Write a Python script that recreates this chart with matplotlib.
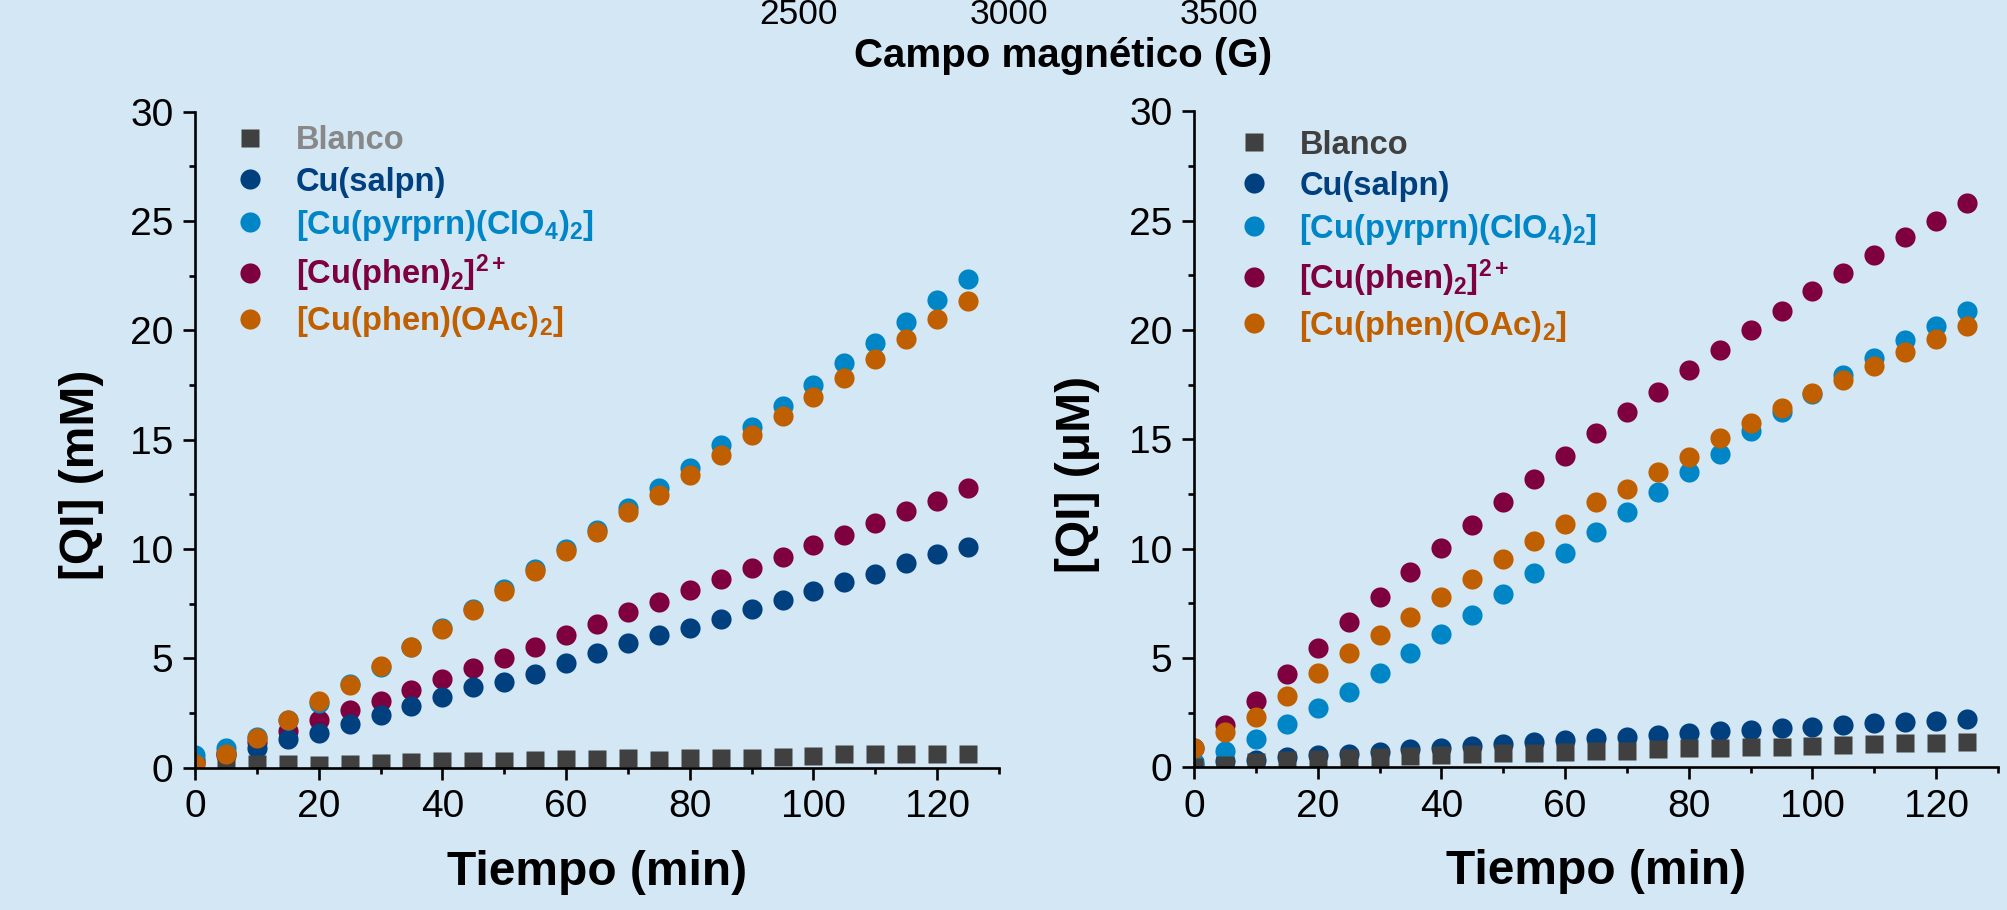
import matplotlib.pyplot as plt
from matplotlib.ticker import MultipleLocator

plt.rcParams["font.family"] = ["Liberation Sans", "DejaVu Sans"]
plt.rcParams["mathtext.fontset"] = "custom"
plt.rcParams["mathtext.rm"] = "Liberation Sans"
plt.rcParams["mathtext.it"] = "Liberation Sans:italic"
plt.rcParams["mathtext.bf"] = "Liberation Sans:bold"

BG = "#d3e7f5"

# tiempo (min)
TIME = [0, 5, 10, 15, 20, 25, 30, 35, 40, 45, 50, 55, 60,
        65, 70, 75, 80, 85, 90, 95, 100, 105, 110, 115, 120, 125]

# panel izquierdo, [QI] (mM)
blanco_mM = [0.0, 0.10, 0.15, 0.15, 0.12, 0.18, 0.23, 0.27, 0.30, 0.30, 0.30, 0.33, 0.38,
             0.38, 0.43, 0.35, 0.43, 0.46, 0.46, 0.49, 0.52, 0.61, 0.62, 0.61, 0.62, 0.62]
salpn_mM = [0.35, 0.65, 0.91, 1.30, 1.57, 1.98, 2.41, 2.82, 3.25, 3.70, 3.93, 4.28, 4.80,
            5.23, 5.69, 6.07, 6.40, 6.80, 7.26, 7.67, 8.08, 8.51, 8.86, 9.35, 9.76, 10.11]
pyrprn_mM = [0.58, 0.88, 1.42, 2.20, 2.95, 3.83, 4.62, 5.53, 6.37, 7.24, 8.16, 9.07, 9.98,
             10.87, 11.86, 12.78, 13.69, 14.76, 15.59, 16.54, 17.50, 18.49, 19.41, 20.39, 21.38, 22.33]
phen2_mM = [0.20, 0.60, 1.19, 1.69, 2.18, 2.64, 3.05, 3.55, 4.04, 4.54, 5.00, 5.53, 6.07,
            6.57, 7.13, 7.59, 8.13, 8.63, 9.15, 9.65, 10.18, 10.64, 11.17, 11.74, 12.20, 12.78]
oac_mM = [0.15, 0.62, 1.34, 2.18, 3.06, 3.80, 4.66, 5.50, 6.34, 7.21, 8.08, 8.99, 9.89,
          10.76, 11.69, 12.45, 13.37, 14.30, 15.21, 16.08, 16.94, 17.80, 18.69, 19.59, 20.50, 21.34]

# panel derecho, [QI] (uM)
blanco_uM = [0.0, 0.12, 0.26, 0.34, 0.38, 0.43, 0.46, 0.53, 0.56, 0.61, 0.64, 0.66, 0.69,
             0.73, 0.76, 0.82, 0.87, 0.88, 0.91, 0.95, 0.98, 1.02, 1.07, 1.10, 1.13, 1.17]
salpn_uM = [0.10, 0.30, 0.35, 0.45, 0.56, 0.61, 0.72, 0.82, 0.90, 0.99, 1.08, 1.14, 1.25,
            1.33, 1.40, 1.48, 1.55, 1.66, 1.71, 1.78, 1.86, 1.94, 2.01, 2.09, 2.13, 2.20]
pyrprn_uM = [0.26, 0.75, 1.30, 1.97, 2.70, 3.46, 4.30, 5.21, 6.10, 6.97, 7.91, 8.87, 9.79,
             10.75, 11.69, 12.58, 13.49, 14.35, 15.40, 16.27, 17.05, 17.95, 18.71, 19.52, 20.19, 20.89]
phen2_uM = [0.90, 1.95, 3.05, 4.27, 5.44, 6.63, 7.80, 8.92, 10.02, 11.08, 12.15, 13.17, 14.25,
            15.31, 16.24, 17.18, 18.18, 19.09, 20.00, 20.87, 21.76, 22.60, 23.43, 24.24, 25.00, 25.80]
oac_uM = [0.90, 1.63, 2.29, 3.28, 4.30, 5.21, 6.05, 6.86, 7.77, 8.61, 9.51, 10.35, 11.11,
          12.12, 12.73, 13.49, 14.20, 15.05, 15.74, 16.42, 17.11, 17.72, 18.36, 19.01, 19.58, 20.19]

LABELS = ["Blanco", "Cu(salpn)", r"[Cu(pyrprn)(ClO$_\mathbf{4}$)$_\mathbf{2}$]",
          r"[Cu(phen)$_\mathbf{2}$]$^{\mathbf{2+}}$", r"[Cu(phen)(OAc)$_\mathbf{2}$]"]
COLORS = ["#404040", "#00407f", "#0086c6", "#7f003f", "#bf5f00"]
MARKERS = ["s", "o", "o", "o", "o"]
SIZES = [13, 14.5, 14.5, 14.5, 14.5]
# draw order: phen2, salpn, pyrprn, blanco, oac
ORDER = [3, 1, 2, 0, 4]

EPR_TICKS = [2500, 3000, 3500]


def panel(ax, series, ylabel, blanco_txt, leg_xy, ylab_x):
    ax.set_facecolor(BG)
    handles = [None] * 5
    for i in ORDER:
        (h,) = ax.plot(TIME, series[i], ls="none", marker=MARKERS[i],
                       ms=SIZES[i], mec="none", mfc=COLORS[i], label=LABELS[i])
        handles[i] = h
    ax.set_xlim(0, 130)
    ax.set_ylim(0, 30)
    ax.xaxis.set_major_locator(MultipleLocator(20))
    ax.xaxis.set_minor_locator(MultipleLocator(10))
    ax.yaxis.set_major_locator(MultipleLocator(5))
    ax.yaxis.set_minor_locator(MultipleLocator(2.5))
    for s in ["top", "right"]:
        ax.spines[s].set_visible(False)
    for s in ["left", "bottom"]:
        ax.spines[s].set_linewidth(1.9)
    ax.tick_params(which="major", length=8.6, width=1.9, labelsize=28, pad=7)
    ax.tick_params(which="minor", length=4.3, width=1.9)
    ax.set_xlabel("Tiempo (min)", fontsize=34.5, fontweight="bold")
    ax.xaxis.set_label_coords(0.5, -0.125)
    ax.set_ylabel(ylabel, fontsize=34.5, fontweight="bold")
    ax.yaxis.set_label_coords(ylab_x, 0.446)

    leg = ax.legend(handles=handles, loc="upper left", bbox_to_anchor=leg_xy,
                    frameon=False, numpoints=1, borderpad=0, borderaxespad=0,
                    handlelength=1.0, handletextpad=0.9, labelspacing=0.31,
                    prop={"size": 23.5, "weight": "bold"})
    for t, c in zip(leg.get_texts(), [blanco_txt] + COLORS[1:]):
        t.set_color(c)


fig = plt.figure(figsize=(20.08, 9.1), dpi=100, facecolor=BG)
ax1 = fig.add_axes([195 / 2008, 142.3 / 910, 804 / 2008, 656 / 910])
ax2 = fig.add_axes([1194 / 2008, 142.7 / 910, 804 / 2008, 656 / 910])

panel(ax1, [blanco_mM, salpn_mM, pyrprn_mM, phen2_mM, oac_mM],
      "[QI] (mM)", "#888888", (0.048, 0.979), -0.113)
panel(ax2, [blanco_uM, salpn_uM, pyrprn_uM, phen2_uM, oac_uM],
      "[QI] (μM)", COLORS[0], (0.054, 0.972), -0.117)

# resto del espectro EPR (recortado arriba)
ax_epr = fig.add_axes([780 / 2008, 1 + 13 / 910, 566 / 2008, 0.05])
ax_epr.set_facecolor("none")
ax_epr.set_xlim(2455.5, 3802.2)
ax_epr.set_xticks(EPR_TICKS)
ax_epr.set_yticks([])
for s in ax_epr.spines.values():
    s.set_visible(False)
ax_epr.tick_params(axis="x", length=0, labelsize=25.5, pad=8)
ax_epr.set_xlabel("Campo magnético (G)", fontsize=29, fontweight="bold", labelpad=4)

fig.savefig("out.png", dpi=100, facecolor=BG)
